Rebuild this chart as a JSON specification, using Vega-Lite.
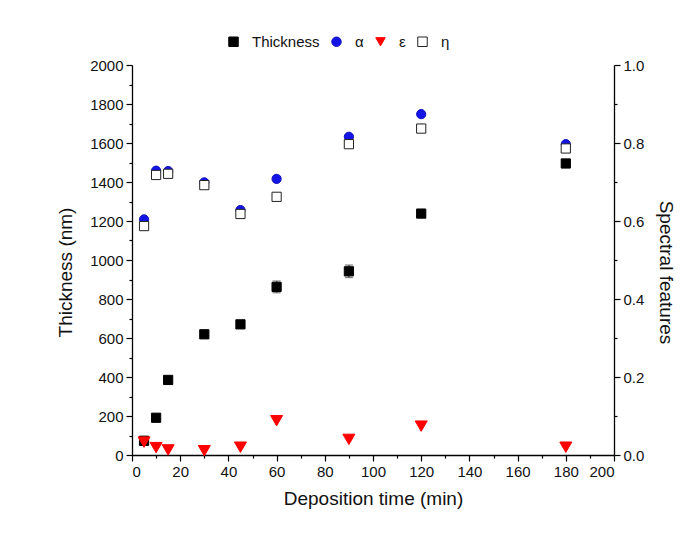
{
  "$schema": "https://vega.github.io/schema/vega-lite/v6.json",
  "width": 482,
  "height": 390,
  "autosize": {"type": "none"},
  "padding": {"left": 132, "top": 65, "right": 82, "bottom": 81},
  "background": "white",
  "config": {
    "view": {"stroke": null},
    "font": "Liberation Sans",
    "axis": {
      "domainColor": "#000",
      "domainWidth": 1.3,
      "tickColor": "#000",
      "tickWidth": 1.2,
      "labelColor": "#111",
      "titleColor": "#111",
      "labelFont": "Liberation Sans",
      "titleFont": "Liberation Sans",
      "labelFontSize": 15,
      "titleFontSize": 19,
      "titleFontWeight": "normal",
      "labelOverlap": false,
      "grid": false
    }
  },
  "datasets": {
    "thk": [
      {"time": 5, "value": 73, "err": 0, "series": "Thickness"},
      {"time": 10, "value": 191, "err": 0, "series": "Thickness"},
      {"time": 15, "value": 385, "err": 0, "series": "Thickness"},
      {"time": 30, "value": 619, "err": 0, "series": "Thickness"},
      {"time": 45, "value": 670, "err": 0, "series": "Thickness"},
      {"time": 60, "value": 862, "err": 30, "series": "Thickness"},
      {"time": 90, "value": 942, "err": 32, "series": "Thickness"},
      {"time": 120, "value": 1238, "err": 0, "series": "Thickness"},
      {"time": 180, "value": 1495, "err": 18, "series": "Thickness"}
    ],
    "specAH": [
      {"time": 5, "value": 0.604, "series": "α"},
      {"time": 10, "value": 0.729, "series": "α"},
      {"time": 15, "value": 0.728, "series": "α"},
      {"time": 30, "value": 0.699, "series": "α"},
      {"time": 45, "value": 0.628, "series": "α"},
      {"time": 60, "value": 0.708, "series": "α"},
      {"time": 90, "value": 0.816, "series": "α"},
      {"time": 120, "value": 0.874, "series": "α"},
      {"time": 180, "value": 0.797, "series": "α"},
      {"time": 5, "value": 0.587, "series": "η"},
      {"time": 10, "value": 0.718, "series": "η"},
      {"time": 15, "value": 0.721, "series": "η"},
      {"time": 30, "value": 0.692, "series": "η"},
      {"time": 45, "value": 0.618, "series": "η"},
      {"time": 60, "value": 0.662, "series": "η"},
      {"time": 90, "value": 0.797, "series": "η"},
      {"time": 120, "value": 0.837, "series": "η"},
      {"time": 180, "value": 0.786, "series": "η"}
    ],
    "specE": [
      {"time": 5, "value": 0.033, "series": "ε"},
      {"time": 10, "value": 0.019, "series": "ε"},
      {"time": 15, "value": 0.013, "series": "ε"},
      {"time": 30, "value": 0.011, "series": "ε"},
      {"time": 45, "value": 0.02, "series": "ε"},
      {"time": 60, "value": 0.088, "series": "ε"},
      {"time": 90, "value": 0.04, "series": "ε"},
      {"time": 120, "value": 0.074, "series": "ε"},
      {"time": 180, "value": 0.02, "series": "ε"}
    ]
  },
  "layer": [
    {
      "layer": [
        {
          "data": {"name": "thk"},
          "transform": [{"filter": "datum.err > 0"}],
          "mark": {"type": "errorbar", "ticks": {"size": 8}, "color": "#444", "thickness": 1.2},
          "encoding": {
            "x": {"field": "time", "type": "quantitative", "scale": {"domain": [0, 200], "nice": false}},
            "y": {
              "field": "value", "type": "quantitative",
              "scale": {"domain": [0, 2000], "nice": false},
              "axis": {
                "orient": "left", "title": null, "labels": false, "domain": false, "tickSize": 3,
                "values": [100,300,500,700,900,1100,1300,1500,1700,1900]
              }
            },
            "yError": {"field": "err"}
          }
        },
        {
          "data": {"name": "thk"},
          "mark": {"type": "point", "filled": false, "size": 85, "strokeWidth": 1, "opacity": 1},
          "encoding": {
            "x": {
              "field": "time", "type": "quantitative",
              "scale": {"domain": [0, 200], "nice": false},
              "axis": {
                "orient": "bottom",
                "title": "Deposition time (min)",
                "values": [0,20,40,60,80,100,120,140,160,180,200],
                "format": "d",
                "tickSize": 6,
                "labelPadding": 3,
                "titlePadding": 10
              }
            },
            "y": {
              "field": "value", "type": "quantitative",
              "scale": {"domain": [0, 2000], "nice": false},
              "axis": {
                "orient": "left",
                "title": "Thickness (nm)",
                "values": [0,200,400,600,800,1000,1200,1400,1600,1800,2000],
                "format": "d",
                "tickSize": 6,
                "labelPadding": 3,
                "titlePadding": 14,
                "titleY": 207
              }
            },
            "fill": {
              "field": "series", "type": "nominal",
              "scale": {"domain": ["Thickness", "α", "ε", "η"], "range": ["#000000", "#1414e6", "#ff0000", "#ffffff"]},
              "legend": {
                "orient": "none", "legendX": 94, "legendY": -31, "direction": "horizontal",
                "title": null, "labelFontSize": 15, "labelColor": "#111", "symbolSize": 90,
                "columnPadding": 9, "labelOffset": 11, "labelFont": "Liberation Sans", "symbolStrokeWidth": 1
              }
            },
            "stroke": {
              "field": "series", "type": "nominal",
              "scale": {"domain": ["Thickness", "α", "ε", "η"], "range": ["#000000", "#1010c0", "#ff0000", "#222222"]}
            },
            "shape": {
              "field": "series", "type": "nominal",
              "scale": {"domain": ["Thickness", "α", "ε", "η"], "range": ["square", "circle", "triangle-down", "square"]}
            }
          }
        }
      ],
      "resolve": {"axis": {"y": "independent"}}
    },
    {
      "layer": [
        {
          "data": {"name": "specAH"},
          "mark": {"type": "point", "filled": false, "size": 85, "strokeWidth": 1, "opacity": 1},
          "encoding": {
            "x": {
              "field": "time", "type": "quantitative",
              "axis": {
                "orient": "bottom", "title": null, "labels": false, "domain": false, "tickSize": 3,
                "values": [10,30,50,70,90,110,130,150,170,190]
              }
            },
            "y": {
              "field": "value", "type": "quantitative",
              "scale": {"domain": [0, 1], "nice": false},
              "axis": {
                "orient": "right",
                "title": "Spectral features",
                "values": [0,0.2,0.4,0.6,0.8,1.0],
                "format": ".1f",
                "tickSize": 6,
                "labelPadding": 3,
                "titlePadding": 12,
                "titleY": 207
              }
            },
            "fill": {"field": "series", "type": "nominal"},
            "stroke": {"field": "series", "type": "nominal"},
            "shape": {"field": "series", "type": "nominal"}
          }
        },
        {
          "data": {"name": "specE"},
          "mark": {"type": "point", "filled": false, "size": 145, "strokeWidth": 1, "opacity": 1},
          "encoding": {
            "x": {
              "field": "time", "type": "quantitative",
              "axis": {
                "orient": "bottom", "title": null, "labels": false, "domain": false, "tickSize": 3,
                "values": [10,30,50,70,90,110,130,150,170,190]
              }
            },
            "y": {
              "field": "value", "type": "quantitative",
              "scale": {"domain": [0, 1], "nice": false},
              "axis": {
                "orient": "right", "title": null, "labels": false, "domain": false, "tickSize": 3,
                "values": [0.1,0.3,0.5,0.7,0.9]
              }
            },
            "fill": {"field": "series", "type": "nominal"},
            "stroke": {"field": "series", "type": "nominal"},
            "shape": {"field": "series", "type": "nominal"}
          }
        }
      ],
      "resolve": {"axis": {"y": "independent"}}
    }
  ],
  "resolve": {"scale": {"y": "independent"}, "axis": {"x": "independent"}}
}
